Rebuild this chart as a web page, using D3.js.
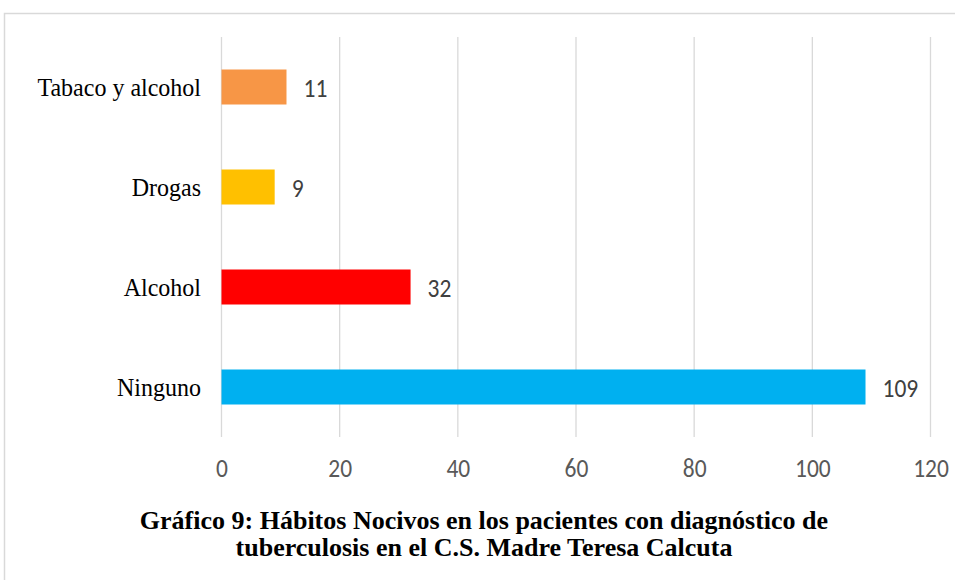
<!DOCTYPE html>
<html><head><meta charset="utf-8">
<script src="https://cdn.jsdelivr.net/npm/d3@7"></script>
<style>body{margin:0;background:#fff}svg{display:block}</style>
</head><body>
<script>
const categories = ["Tabaco y alcohol", "Drogas", "Alcohol", "Ninguno"];
const values = [11, 9, 32, 109];
const colors = ["#F79646", "#FFC000", "#FF0000", "#00B0F0"];
const ticks = [0, 20, 40, 60, 80, 100, 120];
const titleLines = ["Gráfico 9: Hábitos Nocivos en los pacientes con diagnóstico de", "tuberculosis en el C.S. Madre Teresa Calcuta"];

const W = 955, H = 580;
const sansFont = "Carlito, Calibri, Lato, sans-serif";
const serifFont = "'Liberation Serif', 'Times New Roman', serif";
const svg = d3.select("body").append("svg").attr("width", W).attr("height", H);

// outer border
svg.append("rect").attr("x", 4.5).attr("y", 13.5).attr("width", W + 10).attr("height", H + 10)
  .attr("fill", "none").attr("stroke", "#d9d9d9").attr("stroke-width", 1.5);

const x = d3.scaleLinear().domain([0, 120]).range([221.5, 930.5]);
const y = d3.scaleBand().domain(categories).range([37, 437]).paddingInner(0.65).paddingOuter(0.325);

// gridlines
svg.append("g").selectAll("line").data(ticks).join("line")
  .attr("x1", d => x(d)).attr("x2", d => x(d)).attr("y1", 37).attr("y2", 437)
  .attr("stroke", "#d9d9d9").attr("stroke-width", 1.3);

// x tick labels
const xAxis = d3.axisBottom(x).tickValues(ticks).tickSize(0).tickPadding(0);
const gx = svg.append("g").attr("transform", "translate(0,477)").call(xAxis);
gx.select(".domain").remove();
gx.selectAll("text").attr("fill", "#595959").attr("font-family", sansFont)
  .attr("font-size", 23.5).attr("dy", 0).attr("y", 0).attr("transform", "scale(1,1.12)");

// bars
svg.append("g").selectAll("rect").data(values).join("rect")
  .attr("x", x(0)).attr("y", (d, i) => y(categories[i]))
  .attr("width", d => x(d) - x(0)).attr("height", y.bandwidth())
  .attr("fill", (d, i) => colors[i]);

// value labels
svg.append("g").selectAll("text").data(values).join("text")
  .attr("transform", (d, i) => `translate(${x(d) + 17},${y(categories[i]) + y.bandwidth() / 2 + 10}) scale(1,1.12)`)
  .attr("fill", "#404040").attr("font-family", sansFont)
  .attr("font-size", 23.5).text(d => d);

// category labels
const yAxis = d3.axisLeft(y).tickSize(0).tickPadding(0);
const gy = svg.append("g").attr("transform", "translate(201,0)").call(yAxis);
gy.select(".domain").remove();
gy.selectAll(".tick").attr("transform", d => `translate(0,${y(d) + y.bandwidth() / 2 + 9})`);
gy.selectAll("text").attr("fill", "#000").attr("font-family", serifFont)
  .attr("font-size", 24).attr("dy", 0).attr("x", 0).attr("transform", "scale(1,1.06)");

// title
svg.append("g").selectAll("text").data(titleLines).join("text")
  .attr("x", 484).attr("y", (d, i) => 529 + i * 27)
  .attr("text-anchor", "middle").attr("font-family", serifFont)
  .attr("font-weight", "bold").attr("font-size", 26).attr("fill", "#000").text(d => d);
</script>
</body></html>
